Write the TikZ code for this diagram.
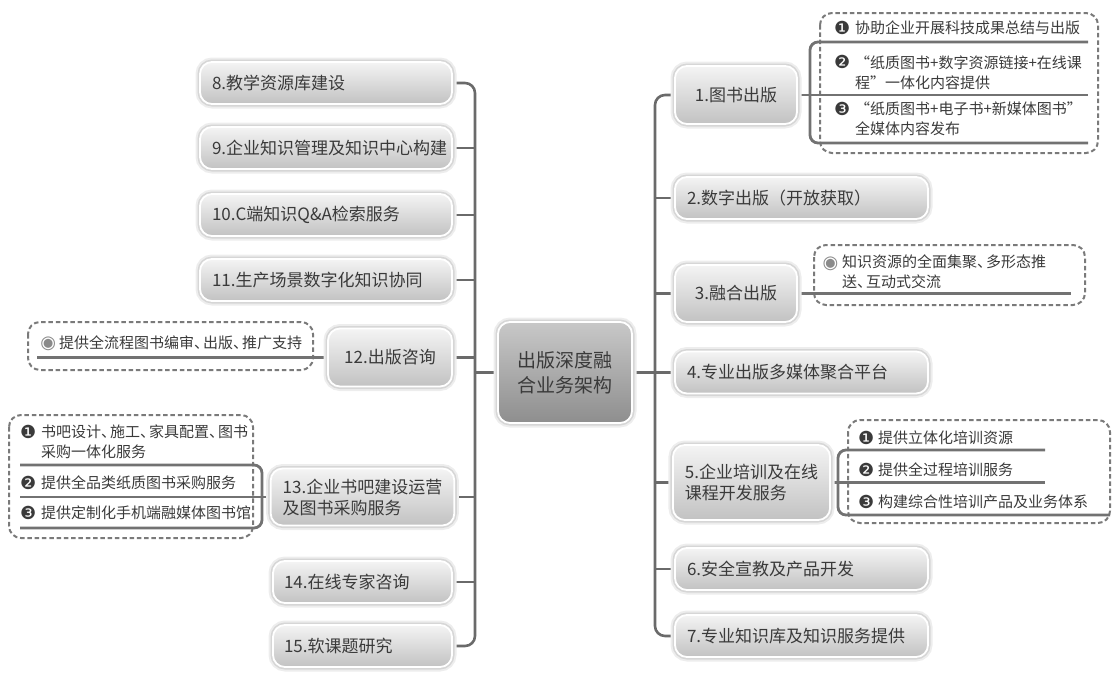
\documentclass[tikz,border=0pt]{standalone}
\usepackage{fontspec}
\setmainfont{Noto Sans CJK SC}
\newfontfamily\symfont{DejaVu Sans}
\newfontfamily\fwfont{Noto Sans CJK SC}[RawFeature=+fwid]
\newcommand{\qo}{{\fwfont “}}
\newcommand{\qc}{{\fwfont ”}}
\newcommand{\dun}{、\kern-6pt}
\newcommand{\bl}[2][5pt]{\llap{\raisebox{-0.5pt}{\symfont\fontsize{18}{18}\selectfont #2}\hspace{#1}}}
\usetikzlibrary{backgrounds}
\definecolor{txt}{HTML}{3A3A3A}
\definecolor{lnc}{HTML}{6A6A6A}
\definecolor{ulc}{HTML}{727272}
\definecolor{dashc}{HTML}{7A7A7A}
\definecolor{boxtop}{HTML}{F4F4F4}
\definecolor{boxbot}{HTML}{C2C2C2}
\definecolor{ctop}{HTML}{C8C8C8}
\definecolor{cbot}{HTML}{8E8E8E}
\definecolor{ringc}{HTML}{8A8A8A}
\tikzset{
  box/.style={rectangle, rounded corners=12pt, draw=white, line width=1.8pt,
    top color=boxtop, bottom color=boxbot, text=txt,
    font={\fontsize{17}{21}\selectfont}, inner xsep=12pt, inner ysep=0pt,
    preaction={draw=black!7, line width=9pt},
    preaction={draw=black!16, line width=5pt}},
  lbox/.style={box, align=left},
  cbox/.style={box, align=center},
  hub/.style={box, top color=ctop, bottom color=cbot, align=center,
    font={\fontsize{19}{25}\selectfont}},
  conn/.style={draw=lnc, line width=2.6pt},
  ul/.style={draw=ulc, line width=2.8pt},
  grp/.style={draw=dashc, line width=2pt, dash pattern=on 4.5pt off 2.8pt, rounded corners=12pt},
  item/.style={text=txt, font={\fontsize{15}{20}\selectfont}, align=left, inner sep=0pt, anchor=west},
}
\begin{document}
\begin{tikzpicture}[x=1pt,y=-1pt]
\useasboundingbox (0,0) rectangle (1113,672);

% hub
\node[hub, minimum width=134pt, minimum height=101pt] (ctr) at (565,372.5) {出版深度融\\合业务架构};

% right boxes
\node[cbox, minimum width=122pt, minimum height=58pt] (b1) at (736,95) {1.图书出版};
\node[lbox, minimum width=253pt, minimum height=42pt, text width=229pt] (b2) at (801.5,198) {2.数字出版（开放获取）};
\node[cbox, minimum width=122pt, minimum height=57pt] (b3) at (736,293.5) {3.融合出版};
\node[lbox, minimum width=253pt, minimum height=42pt, text width=229pt] (b4) at (801.5,372.5) {4.专业出版多媒体聚合平台};
\node[lbox, minimum width=153pt, minimum height=75pt] (b5) at (751.5,482.5) {5.企业培训及在线\\课程开发服务};
\node[lbox, minimum width=253pt, minimum height=42pt, text width=229pt] (b6) at (801.5,569) {6.安全宣教及产品开发};
\node[lbox, minimum width=253pt, minimum height=42pt, text width=229pt] (b7) at (801.5,636) {7.专业知识库及知识服务提供};

% left boxes
\node[lbox, minimum width=252pt, minimum height=42pt, text width=228pt] (b8) at (326,83) {8.教学资源库建设};
\node[lbox, minimum width=252pt, minimum height=42pt, text width=228pt] (b9) at (326,148) {9.企业知识管理及知识中心构建};
\node[lbox, minimum width=252pt, minimum height=42pt, text width=228pt] (b10) at (326,215) {10.C端知识Q\&A检索服务};
\node[lbox, minimum width=252pt, minimum height=42pt, text width=228pt] (b11) at (326,280) {11.生产场景数字化知识协同};
\node[cbox, minimum width=124pt, minimum height=58pt] (b12) at (390,357.5) {12.出版咨询};
\node[lbox, minimum width=179pt, minimum height=57pt] (b13) at (362.5,497) {13.企业书吧建设运营\\及图书采购服务};
\node[lbox, minimum width=179pt, minimum height=42pt, text width=157pt, inner xsep=11pt] (b14) at (362.5,582) {14.在线专家咨询};
\node[lbox, minimum width=179pt, minimum height=42pt, text width=157pt, inner xsep=11pt] (b15) at (362.5,646) {15.软课题研究};

% detail items, group 1
\node[item] (i11) at (855,28) {\bl{❶}协助企业开展科技成果总结与出版};
\node[item] (i12) at (855,72.5) {\bl{❷}\qo 纸质图书+数字资源链接+在线课\\程\qc 一体化内容提供};
\node[item] (i13) at (855,119) {\bl{❸}\qo 纸质图书+电子书+新媒体图书\qc\\全媒体内容发布};
% group 3
\node[item] (i31) at (842,272) {\bl[4pt]{\color{ringc}◉}知识资源的全面集聚\dun 多形态推\\送\dun 互动式交流};
% group 5
\node[item] (i51) at (878,438) {\bl[4pt]{❶}提供立体化培训资源};
\node[item] (i52) at (878,470) {\bl[4pt]{❷}提供全过程培训服务};
\node[item] (i53) at (878,502) {\bl[4pt]{❸}构建综合性培训产品及业务体系};
% group 12
\node[item] (i121) at (59,343) {\bl[3pt]{\color{ringc}◉}提供全流程图书编审\dun 出版\dun 推广支持};
% group 13
\node[item] (i131) at (41,442) {\bl[5pt]{❶}书吧设计\dun 施工\dun 家具配置\dun 图书\\采购一体化服务};
\node[item] (i132) at (41,483) {\bl[5pt]{❷}提供全品类纸质图书采购服务};
\node[item] (i133) at (41,513) {\bl[5pt]{❸}提供定制化手机端融媒体图书馆};

% helper coordinates
\coordinate (tr) at (655,0);
\coordinate (tl) at (475,0);
\coordinate (k1) at (810,0);
\coordinate (k5) at (838,0);
\coordinate (k13) at (262,0);
\coordinate (g1t) at (1088,42);
\coordinate (g1m) at (1088,95);
\coordinate (g1b) at (1088,143);
\coordinate (g3e) at (1071,293.5);
\coordinate (g5a) at (1045,450);
\coordinate (g5b) at (1045,482.5);
\coordinate (g5c) at (1110,515);
\coordinate (g12e) at (37,357.5);
\coordinate (g13a) at (20,465);
\coordinate (g13b) at (20,497);
\coordinate (g13c) at (20,528);

\begin{scope}[on background layer]
  % dashed frames
  \draw[grp] (820,13) rectangle (1098,153);
  \draw[grp] (814,245) rectangle (1085,305);
  \draw[grp] (848,420) rectangle (1110,523);
  \draw[grp] (28,322) rectangle (313,370);
  \draw[grp] (9,415) rectangle (253,538);
  % right trunk
  \draw[conn, rounded corners=10pt] (b1.west) -- (b1.west -| tr) -- (b7.west -| tr) -- (b7.west);
  \foreach \n in {2,...,6} \draw[conn] (b\n.west) -- (b\n.west -| tr);
  \draw[conn] (ctr.east) -- (ctr.east -| tr);
  % left trunk
  \draw[conn, rounded corners=10pt] (b8.east) -- (b8.east -| tl) -- (b15.east -| tl) -- (b15.east);
  \foreach \n in {9,...,14} \draw[conn] (b\n.east) -- (b\n.east -| tl);
  \draw[conn] (ctr.west) -- (ctr.west -| tl);
  % underlines
  \draw[ul, rounded corners=8pt] (g1t) -- (g1t -| k1) -- (g1b -| k1) -- (g1b);
  \draw[ul] (b1.east) -- (g1m);
  \draw[ul] (b3.east) -- (g3e);
  \draw[ul, rounded corners=8pt] (g5a) -- (g5a -| k5) -- (g5c -| k5) -- (g5c);
  \draw[ul] (b5.east) -- (g5b);
  \draw[ul] (b12.west) -- (g12e);
  \draw[ul, rounded corners=8pt] (g13a) -- (g13a -| k13) -- (g13c -| k13) -- (g13c);
  \draw[ul] (b13.west) -- (g13b);
\end{scope}
\end{tikzpicture}
\end{document}
